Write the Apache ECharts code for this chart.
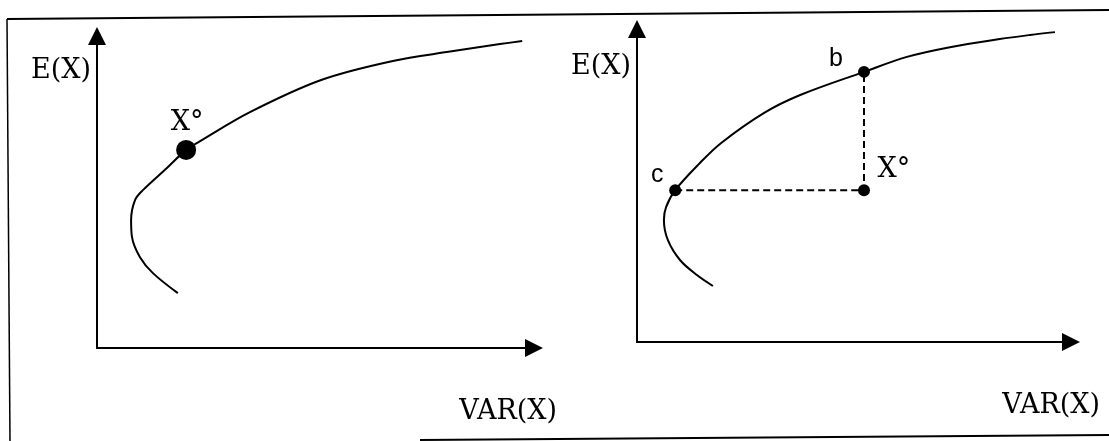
<!DOCTYPE html>
<html>
<head>
<meta charset="utf-8">
<script src="https://cdn.jsdelivr.net/npm/echarts@6/dist/echarts.min.js"></script>
<style>
html,body{margin:0;padding:0;background:#fff;}
#chart{width:1109px;height:441px;}
</style>
</head>
<body>
<div id="chart"></div>
<script>
// left panel: the frontier, X° sits on it
var leftVar = [18.5, 12.8, 9.8, 8.0, 7.8, 8.7, 10.5, 16.0, 20.4, 23.6, 35.0, 51.3, 67.7, 80.8, 92.2, 97.3];
var leftE   = [17.6, 24.0, 29.2, 35.6, 41.0, 47.4, 50.6, 57.7, 63.5, 66.3, 75.6, 85.9, 92.0, 95.0, 97.4, 98.4];
var leftX0  = [20.4, 63.5];

// right panel: X° below the frontier, b and c are on it
var rightVar = [17.5, 13.8, 9.9, 7.1, 6.2, 6.7, 8.8, 14.5, 19.4, 29.3, 37.6, 52.3, 62.2, 72.1, 83.6, 90.6, 96.3];
var rightE   = [17.9, 21.4, 26.2, 32.6, 39.0, 43.1, 48.5, 57.2, 63.6, 73.2, 78.9, 86.3, 91.1, 94.2, 96.8, 98.1, 99.0];
var pointB  = [52.3, 86.3];
var pointC  = [8.8, 48.5];
var rightX0 = [52.3, 48.5];

var axisName = 'E(X)', varName = 'VAR(X)';

function pairs(xs, ys){
    var out = [];
    for (var i = 0; i < xs.length; i++) out.push([xs[i], ys[i]]);
    return out;
}

function xAxisFor(idx, gap){
    return {
        gridIndex: idx, type: 'value', min: 0, max: 100,
        name: varName, nameLocation: 'end', nameGap: gap,
        nameTextStyle: {fontFamily: 'DejaVu Serif', fontSize: 27, color: '#000', align: 'right', verticalAlign: 'top', padding: [50, 0, 0, 0]},
        axisLine: {show: true, symbol: ['none', 'triangle'], symbolSize: [18, 18], lineStyle: {color: '#000', width: 2}},
        axisTick: {show: false}, axisLabel: {show: false}, splitLine: {show: false}
    };
}
function yAxisFor(idx, gap){
    return {
        gridIndex: idx, type: 'value', min: 0, max: 100,
        name: axisName, nameLocation: 'end', nameGap: gap,
        nameTextStyle: {fontFamily: 'DejaVu Serif', fontSize: 27, color: '#000', align: 'right', verticalAlign: 'middle', padding: [0, 6, 0, 0]},
        axisLine: {show: true, symbol: ['none', 'triangle'], symbolSize: [18, 18], lineStyle: {color: '#000', width: 2}},
        axisTick: {show: false}, axisLabel: {show: false}, splitLine: {show: false}
    };
}

var myChart = echarts.init(document.getElementById('chart'));
var option = {
    backgroundColor: '#fff',
    animation: false,
    grid: [
        {left: 97, top: 36, width: 437, height: 312},
        {left: 637, top: 29, width: 434, height: 313}
    ],
    xAxis: [xAxisFor(0, 23), xAxisFor(1, 29)],
    yAxis: [yAxisFor(0, -35), yAxisFor(1, -38)],
    // the frame around both panels (scanned, slightly tilted)
    graphic: [
        {type: 'line', shape: {x1: 7, y1: 19, x2: 1109, y2: 10}, style: {stroke: '#000', lineWidth: 2}},
        {type: 'line', shape: {x1: 7, y1: 19, x2: 10, y2: 441}, style: {stroke: '#000', lineWidth: 1.5}},
        {type: 'line', shape: {x1: 420, y1: 440, x2: 1109, y2: 435}, style: {stroke: '#000', lineWidth: 2}}
    ],
    series: [
        {
            type: 'line', xAxisIndex: 0, yAxisIndex: 0,
            data: pairs(leftVar, leftE), smooth: 0.35, showSymbol: false,
            lineStyle: {color: '#000', width: 2}
        },
        {
            type: 'scatter', xAxisIndex: 0, yAxisIndex: 0,
            data: [leftX0], symbolSize: 20, itemStyle: {color: '#000', opacity: 1},
            label: {show: true, formatter: 'X°', position: 'inside', offset: [1, -27], fontFamily: 'DejaVu Serif', fontSize: 27, color: '#000'}
        },
        {
            type: 'line', xAxisIndex: 1, yAxisIndex: 1,
            data: pairs(rightVar, rightE), smooth: 0.35, showSymbol: false,
            lineStyle: {color: '#000', width: 2}
        },
        {
            // dashed guides: c -> X° -> b
            type: 'line', xAxisIndex: 1, yAxisIndex: 1,
            data: [pointC, rightX0, pointB], showSymbol: false,
            lineStyle: {color: '#000', width: 2, type: [7, 4]}
        },
        {
            type: 'scatter', xAxisIndex: 1, yAxisIndex: 1, symbolSize: 12, itemStyle: {color: '#000', opacity: 1},
            data: [
                {value: pointB, label: {formatter: 'b', offset: [-28, -13], fontFamily: 'Liberation Sans', fontSize: 25}},
                {value: pointC, label: {formatter: 'c', offset: [-18, -15], fontFamily: 'Liberation Sans', fontSize: 25}},
                {value: rightX0, label: {formatter: 'X°', offset: [30, -20], fontFamily: 'DejaVu Serif', fontSize: 27}}
            ],
            label: {show: true, position: 'inside', color: '#000'}
        }
    ]
};
myChart.setOption(option);
</script>
</body>
</html>
